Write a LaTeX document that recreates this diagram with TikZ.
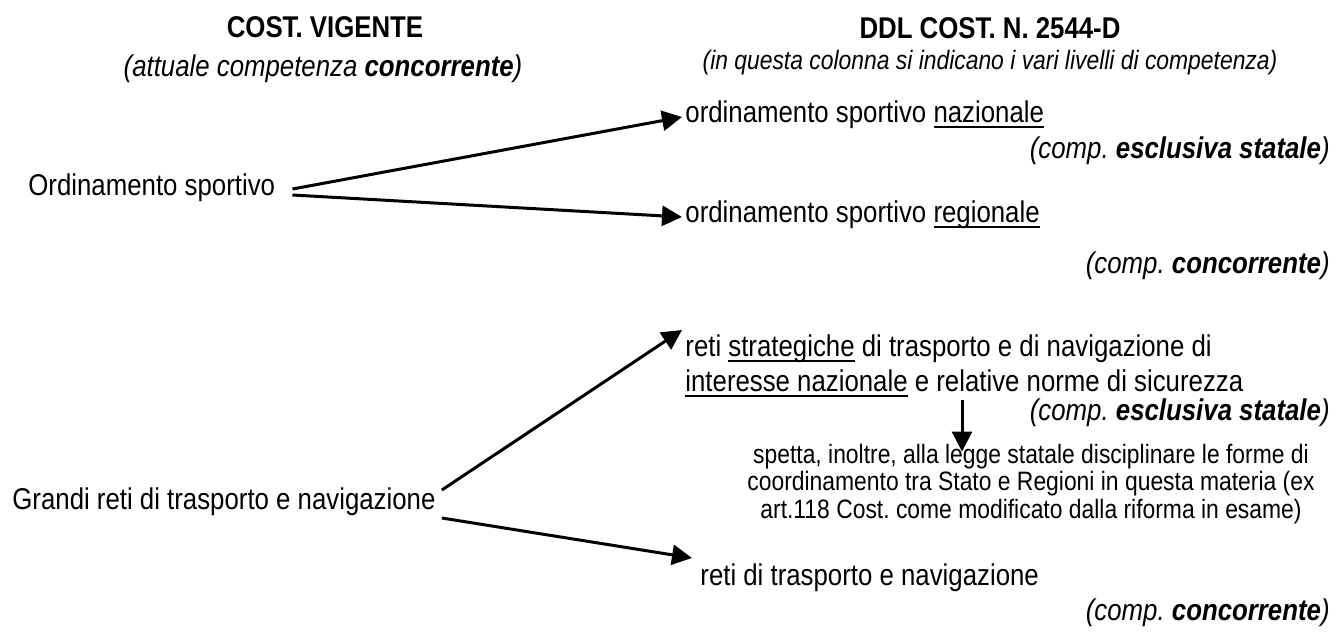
\documentclass[tikz,border=0pt]{standalone}
\usepackage{fontspec}
\setmainfont{Liberation Sans}[FakeStretch=0.86]
\usetikzlibrary{arrows.meta}
\frenchspacing
\newcommand{\sott}[1]{\leavevmode\setbox0\hbox{#1}\rlap{\raisebox{-3pt}{\rule{\wd0}{1pt}}}\box0\relax}

\begin{document}
\begin{tikzpicture}[x=0.5pt,y=-0.5pt,
  testo/.style={inner sep=0pt,font=\fontsize{15}{17.5}\selectfont},
  piccolo/.style={inner sep=0pt,font=\fontsize{13.3}{13.7}\selectfont},
  freccia/.style={line width=1.5pt,-{Triangle[length=10pt,width=10pt]}}]
\useasboundingbox (0,0) rectangle (1337,632);

% intestazioni delle due colonne
\node[testo,anchor=base] (vig) at (325,37) {\textbf{COST. VIGENTE}};
\node[testo,anchor=base] (vig sub) at (323,76) {\textit{(attuale competenza \textbf{concorrente})}};
\node[testo,anchor=base] (ddl) at (990,38) {\textbf{DDL COST. N. 2544-D}};
\node[piccolo,anchor=base] (ddl sub) at (990,69) {\textit{(in questa colonna si indicano i vari livelli di competenza)}};

% ordinamento sportivo
\node[testo,anchor=base west] (ord) at (28,195) {Ordinamento sportivo};
\node[testo,anchor=base west] (naz) at (685,122) {ordinamento sportivo \sott{nazionale}};
\node[testo,anchor=base east] (naz comp) at (1330,158) {\textit{(comp. \textbf{esclusiva statale})}};
\node[testo,anchor=base west] (reg) at (685,222) {ordinamento sportivo \sott{regionale}};
\node[testo,anchor=base east] (reg comp) at (1330,273) {\textit{(comp. \textbf{concorrente})}};

% reti di trasporto
\node[testo,anchor=base west] (reti) at (12,509) {Grandi reti di trasporto e navigazione};
\node[testo,anchor=base west,align=left] (strat) at (685,391)
  {reti \sott{strategiche} di trasporto e di navigazione di\\
   \sott{interesse nazionale} e relative norme di sicurezza};
\node[testo,anchor=base east] (strat comp) at (1330,420) {\textit{(comp. \textbf{esclusiva statale})}};
\node[piccolo,anchor=base,align=center] (spetta) at (1031,518)
  {spetta, inoltre, alla legge statale disciplinare le forme di\\
   coordinamento tra Stato e Regioni in questa materia (ex\\
   art.118 Cost. come modificato dalla riforma in esame)};
\node[testo,anchor=base west] (conc) at (700,585) {reti di trasporto e navigazione};
\node[testo,anchor=base east] (conc comp) at (1330,620) {\textit{(comp. \textbf{concorrente})}};

% frecce
\draw[freccia] ([shift={(17,-6)}]ord.base east) -- ([shift={(-3,-5)}]naz.base west);
\draw[freccia] ([shift={(17,0)}]ord.base east) -- ([shift={(-3,-5)}]reg.base west);
\draw[freccia] ([shift={(6,-19)}]reti.base east) -- ([shift={(-3,-61)}]strat.base west);
\draw[freccia] ([shift={(6,9)}]reti.base east) -- ([shift={(-8,-27)}]conc.base west);
\coordinate (giu) at (962,400);
\draw[freccia] (giu) -- ([yshift=-4]giu |- spetta.north);
\end{tikzpicture}
\end{document}
